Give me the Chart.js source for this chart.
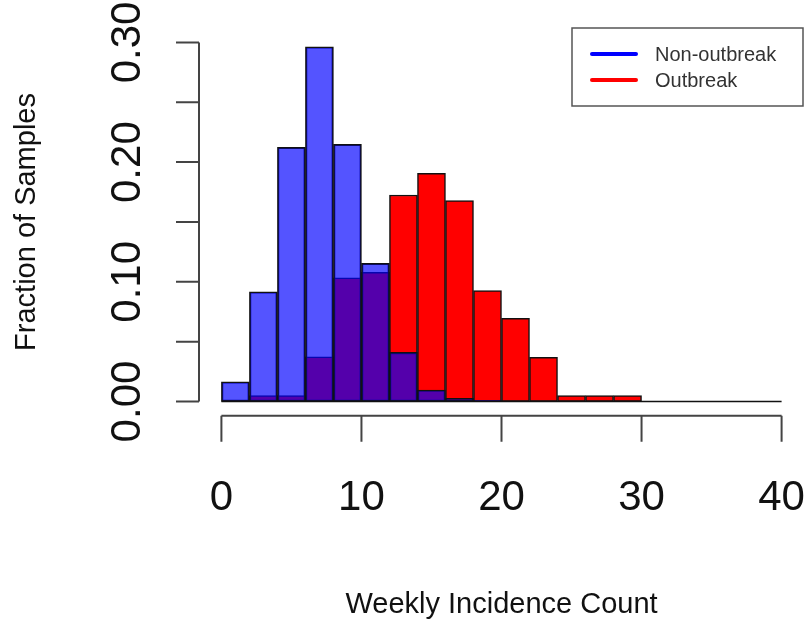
<!DOCTYPE html>
<html>
<head>
<meta charset="utf-8">
<script src="https://cdn.jsdelivr.net/npm/chart.js@4"></script>
<style>
  html, body { margin:0; padding:0; background:#fff; }
  #wrap { width:805px; height:623px; position:relative; }
</style>
</head>
<body>
<div id="wrap"><canvas id="hist"></canvas></div>
<script>
'use strict';

/* ── DATA ────────────────────────────────────────────────── */
// bin centres, bins are 2 wide from 0 to 40
const BIN_MIDS = [1,3,5,7,9,11,13,15,17,19,21,23,25,27,29,31,33,35,37,39];
const BIN_WIDTH = 2;

const NON_OUTBREAK = [0.0165,0.0917,0.2124,0.2964,0.2149,0.1155,0.0410,0.0096,0.0027,0.0010,
                      0,0,0,0,0,0,0,0,0,0];
const OUTBREAK     = [0,0.0050,0.0050,0.0374,0.1034,0.1080,0.1725,0.1906,0.1678,0.0926,
                      0.0695,0.0369,0.0049,0.0049,0.0049,0,0,0,0,0];

const SERIES = ['Non-outbreak','Outbreak'];

const X_TICKS = [0,10,20,30,40];
const Y_TICKS = [0,0.05,0.10,0.15,0.20,0.25,0.30];
const Y_LABELS = [0,0.10,0.20,0.30];

const X_TITLE = 'Weekly Incidence Count';
const Y_TITLE = 'Fraction of Samples';

/* ── HELPERS ─────────────────────────────────────────────── */
const FONT = "'Liberation Sans', Arial, Helvetica, sans-serif";
const pts = arr => arr.map((v,i) => ({ x:BIN_MIDS[i], y:v }));

/* ── AXES (base-graphics style, detached from plot box) ──── */
const baseAxes = {
  id:'baseAxes',
  afterDatasetsDraw(chart) {
    const { ctx, scales:{x, y} } = chart;
    const x0 = x.getPixelForValue(BIN_MIDS[0] - BIN_WIDTH/2);
    const x1 = x.getPixelForValue(BIN_MIDS[BIN_MIDS.length-1] + BIN_WIDTH/2);
    const yb = y.getPixelForValue(0);
    // empty bins still leave their outline along the baseline
    ctx.save();
    ctx.strokeStyle = '#111';
    ctx.lineWidth = 1.5;
    ctx.beginPath();
    ctx.moveTo(x0, yb); ctx.lineTo(x1, yb);
    ctx.stroke();
    ctx.restore();
  },
  afterDraw(chart) {
    const { ctx, chartArea:a, scales:{x, y} } = chart;
    ctx.save();
    ctx.strokeStyle = '#444';
    ctx.fillStyle = '#111';
    ctx.lineWidth = 2;

    // y axis
    const yTop = y.getPixelForValue(Y_TICKS[Y_TICKS.length-1]);
    const yBot = y.getPixelForValue(Y_TICKS[0]);
    ctx.beginPath();
    ctx.moveTo(a.left, yTop); ctx.lineTo(a.left, yBot);
    Y_TICKS.forEach(t => {
      const py = y.getPixelForValue(t);
      ctx.moveTo(a.left, py); ctx.lineTo(a.left - 23, py);
    });
    ctx.stroke();

    ctx.font = `42px ${FONT}`;
    ctx.textAlign = 'center';
    ctx.textBaseline = 'alphabetic';
    Y_LABELS.forEach(t => {
      const py = y.getPixelForValue(t);
      ctx.save();
      ctx.translate(140, py);
      ctx.rotate(-Math.PI/2);
      ctx.fillText(t.toFixed(2), 0, 0);
      ctx.restore();
    });

    // x axis
    const xl = x.getPixelForValue(X_TICKS[0]);
    const xr = x.getPixelForValue(X_TICKS[X_TICKS.length-1]);
    ctx.beginPath();
    ctx.moveTo(xl, a.bottom); ctx.lineTo(xr, a.bottom);
    X_TICKS.forEach(t => {
      const px = x.getPixelForValue(t);
      ctx.moveTo(px, a.bottom); ctx.lineTo(px, a.bottom + 26);
    });
    ctx.stroke();

    X_TICKS.forEach(t => ctx.fillText(String(t), x.getPixelForValue(t), 510));

    // titles
    ctx.font = `29px ${FONT}`;
    ctx.fillText(X_TITLE, (xl + xr)/2, 613);
    ctx.save();
    ctx.translate(35, y.getPixelForValue(0.15));
    ctx.rotate(-Math.PI/2);
    ctx.fillText(Y_TITLE, 0, 0);
    ctx.restore();
    ctx.restore();
  }
};

/* ── LEGEND (boxed, top right) ───────────────────────────── */
const boxLegend = {
  id:'boxLegend',
  afterDraw(chart) {
    const { ctx } = chart;
    const cols = ['#0000ff','#ff0000'];
    ctx.save();
    ctx.fillStyle = '#fff';
    ctx.fillRect(572, 28, 231, 78);
    ctx.strokeStyle = '#555';
    ctx.lineWidth = 1.5;
    ctx.strokeRect(572, 28, 231, 78);
    ctx.lineCap = 'round';
    ctx.lineWidth = 4;
    ctx.font = `20px ${FONT}`;
    ctx.fillStyle = '#333';
    ctx.textBaseline = 'middle';
    SERIES.forEach((s,i) => {
      const py = 54 + i*26;
      ctx.strokeStyle = cols[i];
      ctx.beginPath(); ctx.moveTo(592, py); ctx.lineTo(636, py); ctx.stroke();
      ctx.fillText(s, 655, py + 1);
    });
    ctx.restore();
  }
};

/* ── CHART ───────────────────────────────────────────────── */
new Chart(document.getElementById('hist'), {
  type:'bar',
  data:{
    datasets:[
      { label:SERIES[0], data:pts(NON_OUTBREAK),
        backgroundColor:'rgba(0,0,255,0.67)', borderColor:'#111', borderWidth:1.5, borderSkipped:false },
      { label:SERIES[1], data:pts(OUTBREAK),
        backgroundColor:'#ff0000', borderColor:'#111', borderWidth:1.5, borderSkipped:false },
    ]
  },
  options:{
    responsive:true, maintainAspectRatio:false, animation:false,
    layout:{ padding:{ left:199, right:1, top:32.5, bottom:207.3 } },
    datasets:{ bar:{ grouped:false, barPercentage:1, categoryPercentage:1 } },
    plugins:{ legend:{ display:false }, tooltip:{ enabled:false } },
    scales:{
      x:{ type:'linear', display:false, offset:false, min:-1.6, max:41.6 },
      y:{ display:false, min:-0.01186, max:0.3083 }
    }
  },
  plugins:[baseAxes, boxLegend]
});
</script>
</body>
</html>
